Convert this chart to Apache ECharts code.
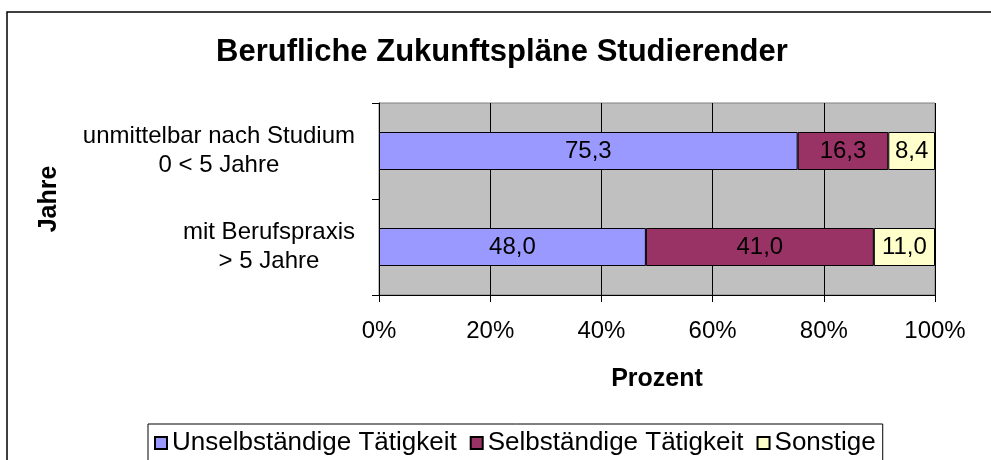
<!DOCTYPE html>
<html>
<head>
<meta charset="utf-8">
<script src="https://cdn.jsdelivr.net/npm/echarts@6/dist/echarts.min.js"></script>
<style>
    html, body { margin: 0; padding: 0; background: #fff; }
    #chart { width: 991px; height: 460px; }
</style>
</head>
<body>
<div id="chart"></div>
<script>
const categories = ['unmittelbar nach Studium\n0 < 5 Jahre', 'mit Berufspraxis\n> 5 Jahre'];
const seriesNames = ['Unselbständige Tätigkeit', 'Selbständige Tätigkeit', 'Sonstige'];
const unselbstaendig = [75.3, 48.0];
const selbstaendig = [16.3, 41.0];
const sonstige = [8.4, 11.0];
const xTicks = [0, 20, 40, 60, 80, 100];

const font = 'Liberation Sans, Arial, sans-serif';
const colors = ['#9999FF', '#993366', '#FFFFCC'];

function makeSeries(name, values, color) {
    return {
        name: name,
        type: 'bar',
        stack: 'total',
        barWidth: 38,
        data: values,
        itemStyle: {
            color: color,
            borderColor: '#000',
            borderWidth: 1
        },
        label: {
            show: true,
            position: 'inside',
            color: '#000',
            fontFamily: font,
            fontSize: 24,
            formatter: function (p) {
                return p.value.toFixed(1).replace('.', ',');
            }
        },
        emphasis: { disabled: true }
    };
}

echarts.init(document.querySelector('#chart')).setOption({
    animation: false,
    textStyle: { fontFamily: font },
    title: {
        text: 'Berufliche Zukunftspläne Studierender',
        left: 211,
        top: 32,
        textStyle: {
            fontFamily: font,
            fontSize: 31,
            fontWeight: 'bold',
            color: '#000'
        }
    },
    graphic: [{
        type: 'rect',
        shape: { x: 7, y: 12, width: 1000, height: 500 },
        style: { fill: 'none', stroke: '#000', lineWidth: 1.5 },
        silent: true
    }],
    legend: {
        data: seriesNames,
        left: 148,
        top: 424,
        padding: [6, 7, 30, 6],
        borderColor: '#000',
        borderWidth: 1,
        icon: 'rect',
        itemWidth: 12,
        itemHeight: 12,
        itemGap: 13,
        textStyle: {
            fontFamily: font,
            fontSize: 26,
            color: '#000'
        }
    },
    grid: {
        left: 379,
        right: 56,
        top: 103,
        bottom: 165,
        show: true,
        backgroundColor: '#C0C0C0',
        borderColor: '#808080',
        borderWidth: 1
    },
    xAxis: {
        type: 'value',
        min: xTicks[0],
        max: xTicks[xTicks.length - 1],
        interval: 20,
        name: 'Prozent',
        nameLocation: 'middle',
        nameGap: 72,
        nameTextStyle: {
            fontFamily: font,
            fontSize: 25,
            fontWeight: 'bold',
            color: '#000'
        },
        axisLine: { show: true, lineStyle: { color: '#000', width: 1 } },
        axisTick: { show: true, length: 7, lineStyle: { color: '#000' } },
        axisLabel: {
            margin: 24,
            fontFamily: font,
            fontSize: 24,
            color: '#000',
            formatter: '{value}%'
        },
        splitLine: { show: true, lineStyle: { color: '#000', width: 1 } }
    },
    yAxis: {
        type: 'category',
        data: categories,
        inverse: true,
        name: 'Jahre',
        nameLocation: 'middle',
        nameGap: 317,
        nameRotate: 90,
        nameTextStyle: {
            fontFamily: font,
            fontSize: 25,
            fontWeight: 'bold',
            color: '#000'
        },
        axisLine: { show: true, lineStyle: { color: '#000', width: 1 } },
        axisTick: { show: true, length: 7, lineStyle: { color: '#000' } },
        axisLabel: {
            margin: 24,
            color: '#000',
            formatter: function (v) {
                return v.split('\n').map(function (s) { return '{c|' + s + '}'; }).join('\n');
            },
            rich: {
                c: {
                    align: 'center',
                    fontFamily: font,
                    fontSize: 24,
                    lineHeight: 29,
                    color: '#000'
                }
            }
        }
    },
    series: [
        makeSeries(seriesNames[0], unselbstaendig, colors[0]),
        makeSeries(seriesNames[1], selbstaendig, colors[1]),
        makeSeries(seriesNames[2], sonstige, colors[2])
    ]
});
</script>
</body>
</html>
